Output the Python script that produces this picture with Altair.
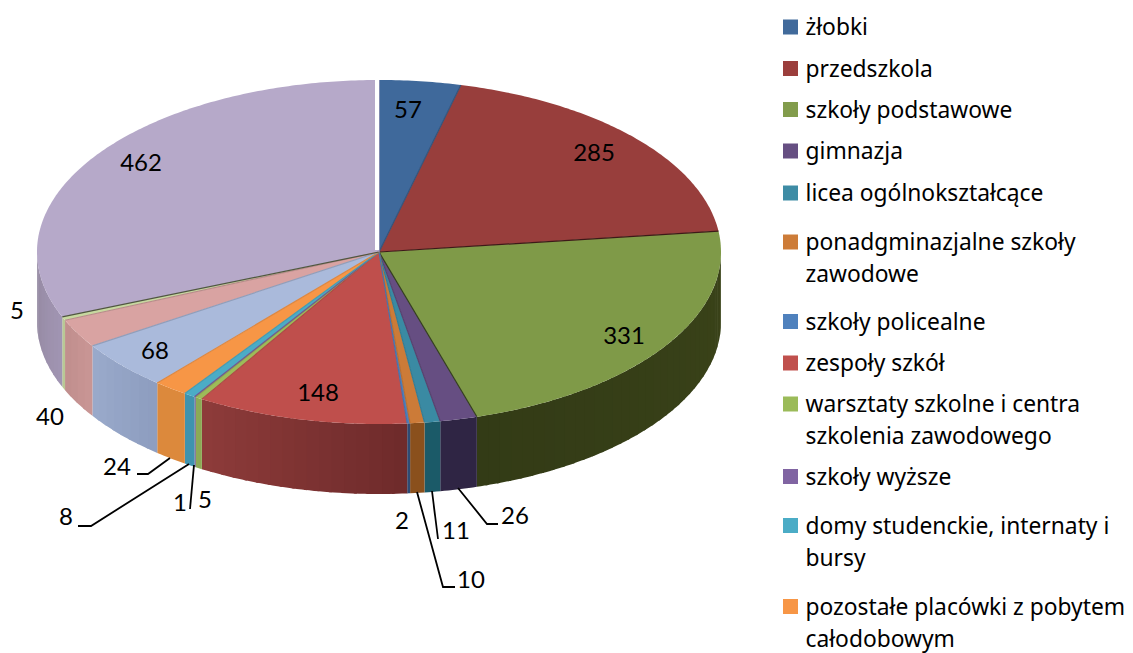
import math
import altair as alt

# ---- data ----
values = [57, 285, 331, 26, 11, 10, 2, 148, 5, 1, 8, 24, 68, 40, 5, 462]
top_colors = ["#3F699B", "#983E3C", "#7F9A48", "#664E82", "#3A8AA3", "#CC7B38", "#4F7FBD", "#BF4F4C",
              "#9DBB59", "#7E61A1", "#4BACC6", "#F79646", "#AABADB", "#D9A3A2", "#C7D8A0", "#B6A9C9"]
side_a = ["#2A4666", "#652927", "#3A4319", "#2F2544", "#1B5A68", "#8A501C", "#2E4B74", "#6E2A2B",
          "#8CAA55", "#6A5288", "#3F93AE", "#DC893C", "#8D9DBF", "#C99695", "#B9C895", "#A195B3"]
side_b = ["#2A4666", "#652927", "#333B16", "#2F2544", "#1B5A68", "#8A501C", "#2E4B74", "#8E3C3A",
          "#8CAA55", "#6A5288", "#3F93AE", "#DC893C", "#9AAACB", "#C08E8D", "#B9C895", "#93889F"]
seam_strength = [0.2, 0.6, 0.6, 0.15, 0.1, 0.1, 0.1, 0.1, 0.1, 0.1, 0.1, 0.1, 0.15, 0.15, 0.6, 0.05]

legend_names = ["żłobki", "przedszkola", "szkoły podstawowe", "gimnazja", "licea ogólnokształcące",
                "ponadgminazjalne szkoły\nzawodowe", "szkoły policealne", "zespoły szkół",
                "warsztaty szkolne i centra\nszkolenia zawodowego", "szkoły wyższe",
                "domy studenckie, internaty i\nbursy", "pozostałe placówki z pobytem\ncałodobowym"]
legend_colors = ["#416A9B", "#9B3E3C", "#829C4C", "#664F82", "#3E8CA5", "#CD7C38",
                 "#4F81BD", "#C0504D", "#9BBB59", "#8064A2", "#4BACC6", "#F79646"]
legend_rows = [27, 68.5, 109.5, 151, 193, 242, 321.5, 363, 404, 476.5, 525.5, 606.5]

label_texts = ["57", "285", "331", "462", "148", "68", "5", "40", "24", "8", "1", "5", "2", "11", "10", "26"]
label_x = [408, 594, 624, 141, 318, 155, 17, 50, 117, 66, 180, 205, 402, 456, 471, 515]
label_y = [110, 153, 336, 163, 393, 351, 311, 417, 467, 517, 503, 500, 521, 531, 580, 516]

leaders = [[(137, 474), (148, 474), (170, 458)],
           [(78, 526), (91, 526), (189, 464)],
           [(190, 509), (194, 465)],
           [(498, 524), (487, 524), (458, 488)],
           [(438, 539), (432, 491)],
           [(455, 587), (443, 587), (417, 492)]]

# ---- pie geometry ----
CX, CY, RX, RY, DEPTH = 379, 252, 342, 172, 70
total = sum(values)


def rim(deg):
    a = math.radians(deg)
    return (CX + RX * math.sin(a), CY - RY * math.cos(a))


def mix(c1, c2, t):
    p = [int(c1[i:i + 2], 16) for i in (1, 3, 5)]
    q = [int(c2[i:i + 2], 16) for i in (1, 3, 5)]
    return "#%02x%02x%02x" % tuple(round(a + (b - a) * t) for a, b in zip(p, q))


def feature(coords, color, kind="Polygon"):
    geom = {"type": kind, "coordinates": [coords] if kind == "Polygon" else coords}
    return {"type": "Feature", "geometry": geom, "properties": {"fill": color}}


def arc_points(a0, a1, dy=0):
    n = max(2, int((a1 - a0) * 1.5))
    out = []
    for k in range(n + 1):
        x, y = rim(a0 + (a1 - a0) * k / n)
        out.append([x, y + dy])
    return out


walls, tops, seams = [], [], []
cum = 0
for i, v in enumerate(values):
    start, end = cum / total * 360, (cum + v) / total * 360
    cum += v
    tops.append(feature([[CX, CY]] + arc_points(start, end) + [[CX, CY]], top_colors[i]))
    seams.append(feature([[CX, CY], list(rim(end))], mix(top_colors[i], "#000000", seam_strength[i]), "LineString"))
    # side wall, only the part that faces the viewer
    a0, a1 = max(start, 90), min(end, 270)
    if a1 > a0:
        m = 1 if side_a[i] == side_b[i] else max(1, int((a1 - a0) / 2))
        for k in range(m):
            b0 = a0 + (a1 - a0) * k / m
            b1 = a0 + (a1 - a0) * (k + 1) / m
            if k < m - 1:
                b1 += 0.5  # overlap the next strip so that no seam shows
            col = mix(side_a[i], side_b[i], (k + 0.5) / m)
            poly = arc_points(b0, b1) + arc_points(b0, b1, DEPTH)[::-1]
            walls.append(feature(poly + [poly[0]], col))

gap = [feature([[CX - 2, CY - 2], [CX - 2, CY - RY - 2]], "#FFFFFF", "LineString")]
lines = [feature([list(p) for p in l], "#000000", "LineString") for l in leaders]

proj = dict(type="identity", scale=1, translate=[-8, -8])


def shapes(feats):
    return alt.Chart(alt.Data(values=feats)).mark_geoshape(strokeWidth=0).encode(
        fill=alt.Color("properties.fill:N", scale=None),
    ).project(**proj)


def strokes(feats, width):
    return alt.Chart(alt.Data(values=feats)).mark_geoshape(
        filled=False, strokeWidth=width
    ).encode(
        stroke=alt.Color("properties.fill:N", scale=None),
    ).project(**proj)


labels = alt.Chart(alt.Data(values=[
    {"t": t, "x": x, "y": y + 8} for t, x, y in zip(label_texts, label_x, label_y)
])).mark_text(font="Lato", fontSize=24, color="#000000", align="center", baseline="alphabetic").encode(
    longitude="x:Q", latitude="y:Q", text="t:N"
).project(**proj)

legend_data = alt.Data(values=[
    {"t": t, "c": c, "sx": 790.5, "tx": 805.5, "sy": y, "ty": y + 8}
    for t, c, y in zip(legend_names, legend_colors, legend_rows)
])
swatches = alt.Chart(legend_data).mark_square(size=225, opacity=1).encode(
    longitude="sx:Q", latitude="sy:Q", fill=alt.Color("c:N", scale=None)
).project(**proj)
legend_text = alt.Chart(legend_data).mark_text(
    font="Noto Sans", fontSize=22.8, color="#000000", align="left", baseline="alphabetic",
    lineBreak="\n", lineHeight=32
).encode(longitude="tx:Q", latitude="ty:Q", text="t:N").project(**proj)

chart = alt.layer(
    shapes(walls), shapes(tops), strokes(seams, 1.2), strokes(gap, 4),
    strokes(lines, 1.8), labels, swatches, legend_text
).properties(
    width=1117, height=645, padding=0, background="#FFFFFF",
    autosize=alt.AutoSizeParams(type="none")
).configure_view(stroke=None)

chart.save("out.html", embed_options={"renderer": "svg", "actions": False})
